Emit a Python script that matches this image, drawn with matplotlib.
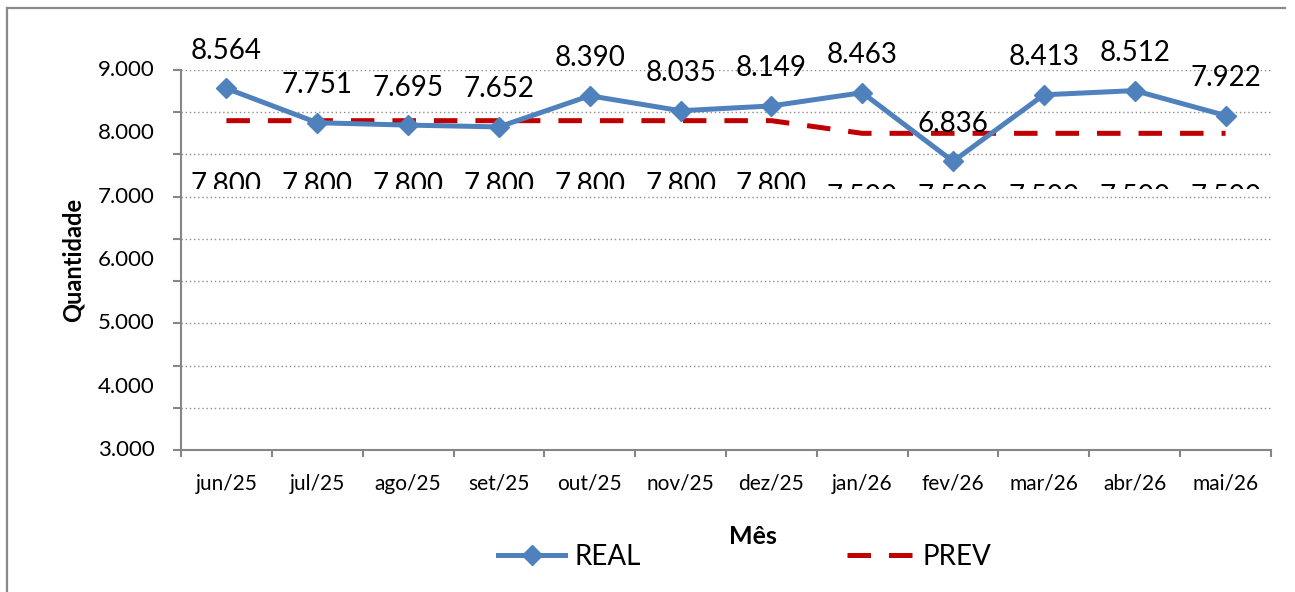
import matplotlib
matplotlib.use("Agg")
import matplotlib.pyplot as plt
from matplotlib.lines import Line2D
from matplotlib.transforms import Bbox, blended_transform_factory
import numpy as np

plt.rcParams['font.family'] = ['Lato', 'DejaVu Sans']

# ---- data ----
months = ["jun/25", "jul/25", "ago/25", "set/25", "out/25", "nov/25",
          "dez/25", "jan/26", "fev/26", "mar/26", "abr/26", "mai/26"]
real = [8564, 7751, 7695, 7652, 8390, 8035, 8149, 8463, 6836, 8413, 8512, 7922]
prev = [7800, 7800, 7800, 7800, 7800, 7800, 7800, 7500, 7500, 7500, 7500, 7500]
y_tick_labels = ["3.000", "4.000", "5.000", "6.000", "7.000", "8.000", "9.000"]
y_grid = [0, 1000, 2000, 3000, 4000, 5000, 6000, 7000, 8000, 9000]

W, H = 1295, 592
fig = plt.figure(figsize=(W / 100, H / 100), dpi=100)
ax = fig.add_axes([181 / W, 1 - 450 / H, (1271 - 181) / W, (450 - 70) / H])

blue = "#4F81BD"
red = "#C00000"
axis_gray = "#868686"

x = np.arange(len(months))
ax.set_xlim(-0.5, len(months) - 0.5)
ax.set_ylim(min(y_grid), max(y_grid))

# gridlines
for g in y_grid[1:]:
    ax.axhline(g, color="#8c8c8c", lw=1.0, linestyle=(0, (1, 2)), zorder=0)

# lines
ax.plot(x, prev, color=red, lw=3.6, dashes=(4.7, 3.6), solid_capstyle='butt',
        dash_capstyle='butt', zorder=2)
ax.plot(x, real, color=blue, lw=3.6, marker='D', ms=10.5, mec=blue, mfc=blue, zorder=3)

# data labels
fmt = lambda v: f"{v:,}".replace(",", ".")
for xi, v in zip(x, real):
    ax.annotate(fmt(v), (xi, v), xytext=(0, 27), textcoords="offset points",
                ha="center", va="center", fontsize=20, color="black", zorder=5,
                annotation_clip=False)
clip = Bbox([[0, H - 189], [W, H]])
for xi, v in zip(x, prev):
    t = ax.annotate(fmt(v), (xi, v), xytext=(0, -46), textcoords="offset points",
                    ha="center", va="center", fontsize=20, color="black", zorder=5,
                    annotation_clip=False)
    t.set_clip_on(True)
    t.set_clip_box(clip)

# spines
for s in ["top", "right"]:
    ax.spines[s].set_visible(False)
for s in ["left", "bottom"]:
    ax.spines[s].set_color(axis_gray)
    ax.spines[s].set_linewidth(1.5)

# x ticks: marks at category boundaries, labels at centers
ax.set_xticks(np.arange(-0.5, len(months), 1.0))
ax.set_xticklabels([])
ax.set_xticks(x, minor=True)
ax.set_xticklabels(months, minor=True, fontsize=15)
ax.tick_params(axis="x", which="major", length=5, width=1.5, color=axis_gray, direction="out")
ax.tick_params(axis="x", which="minor", length=0, pad=17)

# y ticks
ax.set_yticks(y_grid)
ax.set_yticklabels([])
ax.tick_params(axis="y", which="major", length=6, width=1.5, color=axis_gray, direction="out")
trans = blended_transform_factory(ax.transAxes, ax.transData)
lab_lo, lab_hi = 3000, 9000
for lab in y_tick_labels:
    val = float(lab.replace(".", ""))
    ypos = (val - lab_lo) / (lab_hi - lab_lo) * (max(y_grid) - min(y_grid)) + min(y_grid)
    ax.text(-26 / (1271 - 181), ypos, lab, transform=trans, ha="right", va="center",
            fontsize=16)

# axis titles
fig.text(73 / W, 1 - 260 / H, "Quantidade", rotation=90, ha="center", va="center",
         fontsize=17, fontweight="bold")
fig.text(753 / W, 1 - 537 / H, "Mês", ha="center", va="center",
         fontsize=18, fontweight="bold")

# legend
h_real = Line2D([], [], color=blue, lw=3.6, marker='D', ms=10, mfc=blue, mec=blue)
h_prev = Line2D([], [], color=red, lw=3.6, dashes=(4.7, 3.6))
fig.legend([h_real, h_prev], ["REAL", "PREV"], loc="center",
           bbox_to_anchor=(745 / W, 1 - 557 / H), ncol=2, frameon=False,
           fontsize=20, handlelength=2.4, handletextpad=0.35, columnspacing=7.4,
           borderpad=0, borderaxespad=0)

# chart border (left and top)
fig.add_artist(Line2D([7 / W, 7 / W], [0, 1 - 8 / H], transform=fig.transFigure,
                      color="#8a8a8a", lw=1.6))
fig.add_artist(Line2D([7 / W, 1285 / W], [1 - 8 / H, 1 - 8 / H], transform=fig.transFigure,
                      color="#8a8a8a", lw=1.6))

fig.savefig("out.png", dpi=100)
